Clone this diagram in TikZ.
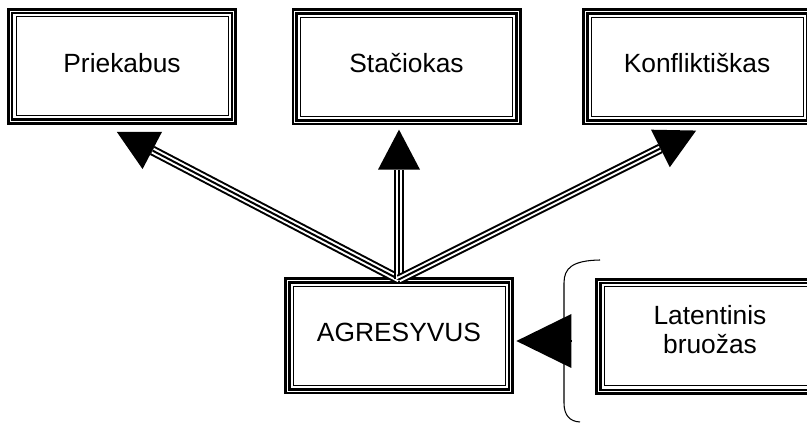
\documentclass[tikz,border=0pt]{standalone}
\usepackage{fontspec}
\setmainfont{Liberation Sans}
\usetikzlibrary{arrows.meta}
\tikzset{
	box/.style={draw, line width=0.055cm, double=white, double distance=0.02cm,
		minimum width=4.47cm, minimum height=2.21cm, inner sep=0pt,
		font=\fontsize{15}{17}\selectfont, text depth=0.16cm,
		path picture={\draw[line width=0.02cm] ([shift={(0.115cm,0.115cm)}]path picture bounding box.south west) rectangle ([shift={(-0.115cm,-0.115cm)}]path picture bounding box.north east);}},
	conn/.style={line width=0.2cm, -{Triangle[length=0.8cm, width=0.84cm, line width=0pt]}, shorten >=#1,
		postaction={draw=white, line width=0.12cm, -, shorten >=#1+0.81cm},
		postaction={draw=black, line width=0.04cm, -, shorten >=#1+0.81cm}}
}
\begin{document}
\begin{tikzpicture}
				\useasboundingbox (0,0) rectangle (16.14,8.46);
				\node[box] (pri) at (2.44,7.13) {Priekabus};
				\node[box] (sta) at (8.13,7.12) {Stačiokas};
				\node[box] (kon) at (13.94,7.12) {Konfliktiškas};
				\node[box] (agr) at (7.98,1.74) {AGRESYVUS};
				\node[box, align=center, text depth=0.28cm] (lat) at (14.2,1.73) {Latentinis\\bruožas};
				\draw[conn=0.38cm] (agr.north) -- ([xshift=-0.44cm]pri.south);
				\draw[conn=0.12cm] (agr.north) -- (agr.north |- sta.south);
				\draw[conn=0.31cm] (agr.north) -- ([xshift=0.26cm]kon.south);
				\draw[line width=0.6pt] (12.0,3.26) .. controls (11.45,3.25) and (11.28,3.1) .. (11.28,2.8) -- (11.28,0.4) .. controls (11.28,0.15) and (11.4,0.03) .. (11.6,0.02);
				\coordinate (br) at (11.42,1.64);
				\draw[line width=0.6pt, -{Triangle[length=1.1cm, width=1.08cm, line width=0pt]}, shorten >=0.085cm] (br) -- (br -| agr.east);
\end{tikzpicture}
\end{document}
